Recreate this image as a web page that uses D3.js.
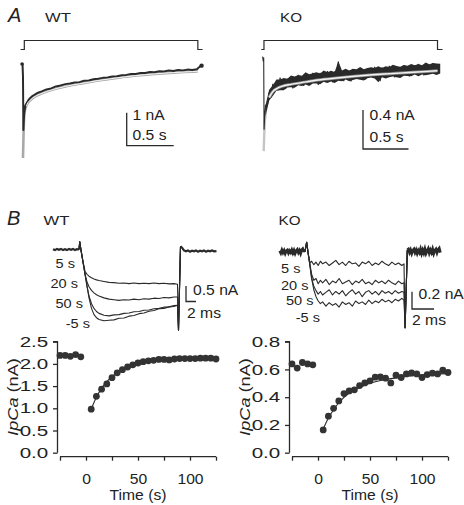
<!DOCTYPE html>
<html><head><meta charset="utf-8">
<script src="https://cdn.jsdelivr.net/npm/d3@7"></script>
<style>body{margin:0;background:#fff}svg{display:block}text{font-family:"Liberation Sans",Arial,sans-serif;fill:#222}</style>
</head><body><script>
// ---------- Panel A data (s, nA) ----------
const tA_wt = [-0.015,-0.005,0,0.004,0.012,0.025,0.04,0.06,0.08,0.1,0.13,0.16,0.2,0.25,0.3,0.35,0.4,0.45,0.5,0.55,0.6,0.65,0.7,0.75,0.8,0.85,0.9,0.95,1.0,1.05,1.1,1.15,1.2,1.25,1.3,1.35,1.4,1.45,1.5,1.55,1.6,1.65,1.7,1.75,1.8,1.85,1.88,1.9];
const iA_wt = [0.0,0.0,-0.4,-2.0,-1.5,-1.26,-1.18,-1.08,-1.02,-0.97,-0.92,-0.87,-0.83,-0.77,-0.74,-0.68,-0.65,-0.61,-0.59,-0.56,-0.55,-0.51,-0.5,-0.46,-0.45,-0.42,-0.41,-0.38,-0.37,-0.34,-0.33,-0.3,-0.3,-0.27,-0.27,-0.24,-0.25,-0.22,-0.23,-0.2,-0.21,-0.18,-0.2,-0.17,-0.18,-0.16,-0.08,-0.05];
const tFit_wt = [0,0.01,0.02,0.035,0.05,0.08,0.12,0.2,0.3,0.45,0.6,0.8,1.0,1.2,1.4,1.6,1.8,1.86];
const iFit_wt = [-2.85,-1.75,-1.42,-1.27,-1.18,-1.09,-1.0,-0.89,-0.79,-0.68,-0.6,-0.5,-0.42,-0.35,-0.3,-0.26,-0.23,-0.22];

const tA_ko = [-0.012,-0.004,0,0.004,0.01,0.02,0.04,0.06,0.08,0.10,0.12,0.14,0.16,0.18,0.20,0.22,0.24,0.26,0.28,0.30,0.32,0.34,0.36,0.38,0.40,0.42,0.44,0.46,0.48,0.50,0.52,0.54,0.56,0.58,0.60,0.62,0.64,0.66,0.68,0.70,0.72,0.74,0.76,0.78,0.80,0.82,0.84,0.86,0.88,0.90,0.92,0.94,0.96,0.98,1.00,1.02,1.04,1.06,1.08,1.10,1.12,1.14,1.16,1.18,1.20,1.22,1.24,1.26,1.28,1.30,1.32,1.34,1.36,1.38,1.40,1.42,1.44,1.46,1.48,1.50,1.52,1.54,1.56,1.58,1.60,1.62,1.64,1.66,1.68,1.70,1.72,1.74,1.76,1.78,1.80,1.82,1.84,1.86,1.88,1.90,1.92];
const iA_ko = [0.03,-0.02,0.02,-0.72,-0.6,-0.47,-0.47,-0.34,-0.39,-0.25,-0.32,-0.255,-0.315,-0.185,-0.29,-0.206,-0.302,-0.208,-0.254,-0.18,-0.297,-0.184,-0.251,-0.158,-0.265,-0.192,-0.27,-0.157,-0.245,-0.172,-0.25,-0.137,-0.225,-0.152,-0.26,-0.138,-0.226,-0.154,-0.232,-0.12,-0.208,-0.136,-0.234,-0.122,-0.21,-0.02,-0.216,-0.134,-0.222,-0.11,-0.188,-0.117,-0.225,-0.104,-0.192,-0.121,-0.199,-0.088,-0.176,-0.105,-0.203,-0.092,-0.18,-0.109,-0.187,-0.076,-0.165,-0.094,-0.222,-0.081,-0.17,-0.099,-0.178,-0.066,-0.155,-0.084,-0.183,-0.072,-0.161,-0.089,-0.168,-0.057,-0.146,-0.074,-0.173,-0.062,-0.15,-0.079,-0.158,-0.046,-0.135,-0.064,-0.162,-0.051,-0.14,-0.069,-0.148,-0.037,-0.126,-0.055,-0.145];
const tBand_ko = [0.02,0.06,0.10,0.14,0.18,0.22,0.26,0.30,0.34,0.38,0.42,0.46,0.50,0.54,0.58,0.62,0.66,0.70,0.74,0.78,0.82,0.86,0.90,0.94,0.98,1.02,1.06,1.10,1.14,1.18,1.22,1.26,1.30,1.34,1.38,1.42,1.46,1.50,1.54,1.58,1.62,1.66,1.70,1.74,1.78,1.82,1.86,1.90,1.94];
const upper_ko = [-0.47,-0.31,-0.265,-0.205,-0.205,-0.191,-0.198,-0.165,-0.174,-0.158,-0.167,-0.132,-0.152,-0.142,-0.132,-0.143,-0.114,-0.13,-0.116,-0.127,-0.018,-0.114,-0.095,-0.112,-0.094,-0.101,-0.078,-0.1,-0.087,-0.079,-0.086,-0.069,-0.086,-0.069,-0.076,-0.054,-0.067,-0.074,-0.057,-0.064,-0.047,-0.059,-0.046,-0.059,-0.031,-0.049,-0.037,-0.04,-0.044];
const lower_ko = [-0.58,-0.42,-0.375,-0.32,-0.315,-0.316,-0.288,-0.285,-0.289,-0.263,-0.272,-0.257,-0.272,-0.247,-0.247,-0.253,-0.229,-0.24,-0.226,-0.242,-0.218,-0.224,-0.205,-0.222,-0.209,-0.201,-0.208,-0.215,-0.192,-0.184,-0.196,-0.234,-0.181,-0.194,-0.181,-0.174,-0.182,-0.189,-0.167,-0.169,-0.172,-0.154,-0.171,-0.154,-0.161,-0.154,-0.147,-0.16,-0.144];
const tFit_ko = [0,0.01,0.02,0.04,0.06,0.1,0.15,0.2,0.3,0.4,0.6,0.8,1.0,1.2,1.4,1.6,1.8,1.91];
const iFit_ko = [-0.94,-0.68,-0.56,-0.45,-0.39,-0.33,-0.295,-0.275,-0.255,-0.24,-0.21,-0.19,-0.172,-0.157,-0.145,-0.133,-0.122,-0.115];

// ---------- Panel B traces (ms, nA) ----------
const tPulseWt = [0,0.15,0.4,0.8,1.2,1.6,2.0,2.5,3,3.5,4,5,6,7,8,9,10,11,12,13,14,15,16,17,18,19,19.7,19.9,20.3];
const wt5s  = [0,0.25,-0.02,-0.4,-0.7,-0.8,-0.86,-0.91,-0.95,-0.98,-1.0,-1.03,-1.06,-1.07,-1.09,-1.08,-1.1,-1.08,-1.1,-1.09,-1.1,-1.08,-1.1,-1.09,-1.11,-1.1,-1.12,-2.6,0.1];
const wt20s = [0,0.25,-0.02,-0.4,-0.79,-1.05,-1.2,-1.32,-1.4,-1.46,-1.5,-1.56,-1.6,-1.62,-1.64,-1.62,-1.63,-1.6,-1.62,-1.59,-1.6,-1.57,-1.58,-1.55,-1.56,-1.53,-1.53,-2.6,0.1];
const wt50s = [0,0.25,-0.02,-0.4,-0.79,-1.18,-1.5,-1.75,-1.9,-2.0,-2.06,-2.12,-2.14,-2.11,-2.1,-2.06,-2.05,-2.01,-2.0,-1.96,-1.95,-1.91,-1.9,-1.86,-1.85,-1.81,-1.8,-2.6,0.1];
const wtM5s = [0,0.25,-0.02,-0.4,-0.79,-1.18,-1.56,-1.9,-2.1,-2.2,-2.26,-2.3,-2.28,-2.27,-2.22,-2.21,-2.15,-2.13,-2.07,-2.05,-1.99,-1.97,-1.91,-1.9,-1.85,-1.84,-1.8,-2.6,0.1];
const tPreWt = [-5.2,-4.8,-4.4,-4.0,-3.6,-3.2,-2.8,-2.4,-2.0,-1.6,-1.2,-0.8,-0.4,0];
const iPreWt = [0.01,-0.02,0.02,-0.01,0.02,-0.02,0.01,-0.02,0.02,-0.01,0.02,-0.02,0.01,0];
const tPostWt = [20.3,20.6,21.0,21.4,21.8,22.2,22.6,23.0,23.4,23.8,24.2,24.6,25.0,25.4,25.8,26.2,26.6,27.0,27.5];
const iPostWt = [0.1,0.06,-0.03,-0.06,-0.03,-0.07,-0.04,-0.06,-0.03,-0.07,-0.04,-0.06,-0.03,-0.07,-0.04,-0.06,-0.03,-0.06,-0.05];

const tPulseKo = [0,0.15,0.3,0.45,0.6,0.8,1.0,1.2,1.4,1.6,1.9,2.2,2.5,2.8,3.1,3.4,3.7,4.0,4.3,4.6,4.9,5.2,5.5,5.8,6.1,6.4,6.7,7.0,7.3,7.6,7.9,8.2,8.5,8.8,9.0,9.1,9.3];
const ko5s  = [0,0.11,-0.03,-0.13,-0.11,-0.15,-0.12,-0.16,-0.11,-0.14,-0.12,-0.16,-0.13,-0.1,-0.15,-0.12,-0.16,-0.11,-0.14,-0.13,-0.17,-0.12,-0.14,-0.11,-0.16,-0.13,-0.15,-0.11,-0.14,-0.16,-0.12,-0.15,-0.13,-0.16,-0.14,-0.88,0.02];
const ko20s = [0,0.11,-0.03,-0.15,-0.26,-0.33,-0.31,-0.37,-0.33,-0.36,-0.32,-0.38,-0.34,-0.36,-0.31,-0.37,-0.35,-0.33,-0.38,-0.34,-0.36,-0.32,-0.37,-0.35,-0.38,-0.33,-0.36,-0.34,-0.37,-0.33,-0.36,-0.38,-0.34,-0.37,-0.36,-0.88,0.02];
const ko50s = [0,0.11,-0.03,-0.16,-0.3,-0.4,-0.45,-0.49,-0.46,-0.5,-0.47,-0.44,-0.5,-0.46,-0.49,-0.45,-0.51,-0.47,-0.44,-0.49,-0.46,-0.52,-0.47,-0.45,-0.49,-0.46,-0.5,-0.45,-0.48,-0.46,-0.49,-0.45,-0.48,-0.46,-0.47,-0.88,0.02];
const koM5s = [0,0.11,-0.03,-0.16,-0.31,-0.44,-0.52,-0.57,-0.6,-0.58,-0.63,-0.59,-0.62,-0.6,-0.64,-0.58,-0.61,-0.59,-0.63,-0.57,-0.6,-0.58,-0.61,-0.56,-0.6,-0.57,-0.59,-0.55,-0.58,-0.56,-0.59,-0.55,-0.57,-0.54,-0.56,-0.88,0.02];
const tPreKo = [-2.3,-2.2,-2.1,-2.0,-1.9,-1.8,-1.7,-1.6,-1.5,-1.4,-1.3,-1.2,-1.1,-1.0,-0.9,-0.8,-0.7,-0.6,-0.5,-0.4,-0.3,-0.2,-0.1,0];
const iPreKo = [0.01,-0.015,0.02,-0.01,0.015,-0.02,0.01,0.02,-0.015,0.01,-0.01,0.02,-0.015,0.015,-0.02,0.01,0.025,-0.01,0.015,-0.02,0.02,0.035,0.01,0];
const tPostKo = [9.3,9.4,9.5,9.6,9.7,9.8,9.9,10.0,10.1,10.2,10.3,10.4,10.5,10.6,10.7,10.8,10.9,11.0,11.1,11.2,11.3,11.4,11.5,11.6,11.7,11.8,11.9,12.0,12.1,12.2,12.3];
const iPostKo = [0.02,0.03,-0.01,0.02,-0.02,0.015,0.03,-0.01,0.02,-0.02,0.015,-0.01,0.03,-0.02,0.02,-0.015,0.03,-0.02,0.01,0.035,-0.015,0.02,-0.01,0.03,-0.02,0.015,0.03,-0.01,0.025,0.04,-0.01];
const traceLabels = ["5 s","20 s","50 s","-5 s"];

// ---------- Scatter data (s, nA) ----------
const timeS = [-25,-20,-15,-10,-5,5,10,15,20,25,30,35,40,45,50,55,60,65,70,75,80,85,90,95,100,105,110,115,120,125];
const ipcaWt = [2.19,2.19,2.17,2.21,2.16,0.98,1.27,1.43,1.55,1.69,1.80,1.87,1.93,1.98,2.02,2.05,2.07,2.08,2.10,2.10,2.09,2.11,2.12,2.12,2.12,2.12,2.13,2.13,2.13,2.11];
const ipcaKo = [0.64,0.61,0.65,0.64,0.633,0.164,0.263,0.32,0.373,0.426,0.445,0.453,0.484,0.503,0.518,0.544,0.547,0.537,0.503,0.559,0.542,0.568,0.575,0.568,0.542,0.563,0.573,0.568,0.595,0.578];
const fitTime = [5,10,15,20,30,40,50,60,80,100,125];
const fitWt = [0.98,1.25,1.45,1.6,1.8,1.93,2.01,2.06,2.1,2.12,2.12];
const fitKo = [0.17,0.25,0.31,0.36,0.43,0.47,0.5,0.52,0.545,0.56,0.57];
const xTicks = [-25,0,25,50,75,100,125];
const xTickLabels = [0,50,100];
const yTicksWt = [0,0.5,1.0,1.5,2.0,2.5];
const yTicksKo = [0,0.2,0.4,0.6,0.8];

// ---------- drawing ----------
const svg = d3.select("body").append("svg").attr("width",464).attr("height",505);
svg.append("rect").attr("width",464).attr("height",505).attr("fill","#fff");
const INK = "#2a2a2a";

function label(x, y, s, o = {}) {
  const t = svg.append("text")
    .attr("transform", `translate(${x},${y}) scale(${o.sx || 1.12},1)`)
    .attr("font-size", o.size || 14)
    .attr("text-anchor", o.anchor || "start")
    .text(s);
  if (o.italic) t.attr("font-style", "italic");
  return t;
}
function pathOf(xs, ys, xsc, ysc, curve) {
  const l = d3.line().x(d => xsc(d[0])).y(d => ysc(d[1]));
  if (curve) l.curve(curve);
  return l(xs.map((v, i) => [v, ys[i]]));
}
function poly(pts) { return d3.line()(pts); }

// ===== Panel A =====
label(8, 22, "A", {size: 20, italic: true, sx: 1});
label(45, 21.5, "WT", {size: 13, sx: 1.28});
label(280, 21.5, "KO", {size: 13, sx: 1.17});

const xAw = d3.scaleLinear().domain([0, 0.5]).range([23, 70]);
const yAw = d3.scaleLinear().domain([0, 1]).range([64, 31]);
const xAk = d3.scaleLinear().domain([0, 0.5]).range([263.7, 309.2]);
const yAk = d3.scaleLinear().domain([0, 0.4]).range([59.5, 20.5]);

function bracket(xs, t0, t1, t2, t3) {
  svg.append("path").attr("d", poly([[xs(t0),49.5],[xs(t1),49.5],[xs(t1),40.5],[xs(t2),40.5],[xs(t2),49.5],[xs(t3),49.5]]))
    .attr("fill","none").attr("stroke",INK).attr("stroke-width",1.2);
}
bracket(xAw, -0.025, 0.014, 1.86, 1.91);
bracket(xAk, -0.026, 0.003, 1.91, 1.965);

// WT trace + fit
svg.append("path").attr("d", pathOf(tFit_wt, iFit_wt, xAw, yAw, d3.curveMonotoneX))
  .attr("fill","none").attr("stroke","#a8a8a8").attr("stroke-width",2.6);
svg.append("path").attr("d", pathOf(tA_wt, iA_wt, xAw, yAw))
  .attr("fill","none").attr("stroke",INK).attr("stroke-width",2.0).attr("stroke-linejoin","round");
svg.append("path").attr("d", pathOf(tFit_wt.slice(3), iFit_wt.slice(3), xAw, yAw, d3.curveMonotoneX))
  .attr("fill","none").attr("stroke","#f4f4f4").attr("stroke-width",1);
svg.append("circle").attr("cx", xAw(-0.01)).attr("cy", yAw(0)).attr("r",1.8).attr("fill",INK);
svg.append("circle").attr("cx", xAw(1.9)).attr("cy", yAw(-0.05)).attr("r",2.2).attr("fill",INK);

// KO trace (noise band + jagged sweep) + fit
svg.append("path").attr("d", pathOf(tFit_ko, iFit_ko, xAk, yAk, d3.curveMonotoneX))
  .attr("fill","none").attr("stroke","#c4c4c4").attr("stroke-width",2.4);
svg.append("path")
  .attr("d", d3.area().x(d => xAk(d[0])).y0(d => yAk(d[2])).y1(d => yAk(d[1]))(tBand_ko.map((t, i) => [t, upper_ko[i], lower_ko[i]])))
  .attr("fill", INK);
svg.append("path").attr("d", pathOf(tA_ko, iA_ko, xAk, yAk))
  .attr("fill","none").attr("stroke",INK).attr("stroke-width",1.1).attr("stroke-linejoin","miter");
svg.append("path").attr("d", pathOf(tFit_ko.slice(4), iFit_ko.slice(4), xAk, yAk, d3.curveMonotoneX))
  .attr("fill","none").attr("stroke","#8a8a8a").attr("stroke-width",3);
svg.append("path").attr("d", pathOf(tFit_ko.slice(4), iFit_ko.slice(4), xAk, yAk, d3.curveMonotoneX))
  .attr("fill","none").attr("stroke","#f2f2f2").attr("stroke-width",1.4);

function scaleBar(cx, cy, w, h) {
  svg.append("path").attr("d", poly([[cx, cy - h],[cx, cy],[cx + w, cy]]))
    .attr("fill","none").attr("stroke",INK).attr("stroke-width",1.3);
}
scaleBar(126.7, 145.7, xAw(0.5) - xAw(0), yAw(0) - yAw(1));
label(132.5, 120, "1 nA");
label(132.5, 140, "0.5 s");
scaleBar(363, 149, xAk(0.5) - xAk(0), yAk(0) - yAk(0.4));
label(369.5, 120, "0.4 nA");
label(369.5, 141.5, "0.5 s");

// ===== Panel B traces =====
label(7, 225, "B", {size: 20, italic: true, sx: 1});
label(43.5, 225, "WT", {size: 13, sx: 1.28});
label(278.5, 225, "KO", {size: 13, sx: 1.17});

const xBw = d3.scaleLinear().domain([0, 2]).range([79, 89]);
const yBw = d3.scaleLinear().domain([0, 0.5]).range([249.5, 234]);
const xBk = d3.scaleLinear().domain([0, 2]).range([305, 327]);
const yBk = d3.scaleLinear().domain([0, 0.2]).range([251.7, 234.4]);

[wt5s, wt20s, wt50s, wtM5s].forEach(arr => {
  svg.append("path").attr("d", pathOf(tPulseWt, arr, xBw, yBw))
    .attr("fill","none").attr("stroke",INK).attr("stroke-width",1.1).attr("stroke-linejoin","round");
});
svg.append("path").attr("d", pathOf(tPreWt, iPreWt, xBw, yBw)).attr("fill","none").attr("stroke",INK).attr("stroke-width",2.2);
svg.append("path").attr("d", pathOf(tPostWt, iPostWt, xBw, yBw)).attr("fill","none").attr("stroke",INK).attr("stroke-width",2.2);

[ko5s, ko20s, ko50s, koM5s].forEach(arr => {
  svg.append("path").attr("d", pathOf(tPulseKo, arr, xBk, yBk))
    .attr("fill","none").attr("stroke",INK).attr("stroke-width",1.1).attr("stroke-linejoin","round");
});
svg.append("path").attr("d", pathOf(tPreKo, iPreKo, xBk, yBk)).attr("fill","none").attr("stroke",INK).attr("stroke-width",2.8);
svg.append("path").attr("d", pathOf(tPostKo, iPostKo, xBk, yBk)).attr("fill","none").attr("stroke",INK).attr("stroke-width",2.8);

const wtLab = [[75,268],[78,288],[83,308],[90,328]];
const koLab = [[300.5,273],[308.5,290],[313.5,305],[320,322]];
traceLabels.forEach((s, i) => {
  label(wtLab[i][0], wtLab[i][1], s, {size: 13, anchor: "end", sx: 1.12});
  label(koLab[i][0], koLab[i][1], s, {size: 13, anchor: "end", sx: 1.12});
});

scaleBar(186, 301.5, xBw(2) - xBw(0), yBw(0) - yBw(0.5));
label(193, 295, "0.5 nA");
label(187, 318, "2 ms");
scaleBar(412, 309, xBk(2) - xBk(0), yBk(0) - yBk(0.2));
label(418.5, 299, "0.2 nA");
label(412, 325, "2 ms");

// ===== Scatter panels =====
function scatter(x0, yDom, yTicks, values, fit) {
  const x = d3.scaleLinear().domain([-25, 125]).range([x0 + 2, x0 + 158]);
  const y = d3.scaleLinear().domain(yDom).range([452.7, 341.7]);
  const gy = svg.append("g").attr("transform", `translate(${x0 - 0.5},0)`)
    .call(d3.axisLeft(y).tickValues(yTicks).tickFormat(d3.format(".1f")).tickSize(4.5).tickPadding(2));
  const gx = svg.append("g").attr("transform", `translate(0,456.7)`)
    .call(d3.axisBottom(x).tickValues(xTicks).tickFormat(d => xTickLabels.includes(d) ? d : "").tickSize(4).tickPadding(13));
  [gy, gx].forEach(g => {
    g.select(".domain").attr("stroke", INK).attr("stroke-width", 1.3);
    g.selectAll(".tick line").attr("stroke", INK).attr("stroke-width", 1.3);
    g.selectAll(".tick text").attr("font-size", 14.5).attr("font-family", '"Liberation Sans",Arial,sans-serif').attr("fill", "#222");
  });
  gy.select(".domain").attr("d", `M-4.5,${y(yDom[1])}H0V${y(0)}`);
  gx.select(".domain").attr("d", `M${x(-25)},0H${x(125)}`);
  gy.selectAll(".tick text").attr("transform", "scale(1.42,1)");
  gx.selectAll(".tick text").attr("transform", "scale(1.08,1)");
  svg.append("path").attr("d", pathOf(fitTime, fit, x, y, d3.curveMonotoneX))
    .attr("fill","none").attr("stroke",INK).attr("stroke-width",1.1);
  svg.append("g").selectAll("circle").data(timeS.map((t, i) => [t, values[i]])).join("circle")
    .attr("cx", d => x(d[0])).attr("cy", d => y(d[1])).attr("r", 3.4).attr("fill", "#333");
  const tl = svg.append("text").attr("transform", `translate(${x0 - 40},397) rotate(-90) scale(1.3,1)`)
    .attr("text-anchor","middle").attr("font-size",14);
  tl.append("tspan").attr("font-style","italic").text("IpCa");
  tl.append("tspan").text(" (nA)");
  label(x0 + 80, 500, "Time (s)", {anchor: "middle", sx: 1.12});
}
scatter(58, [0, 2.5], yTicksWt, ipcaWt, fitWt);
scatter(290, [0, 0.8], yTicksKo, ipcaKo, fitKo);
</script></body></html>
